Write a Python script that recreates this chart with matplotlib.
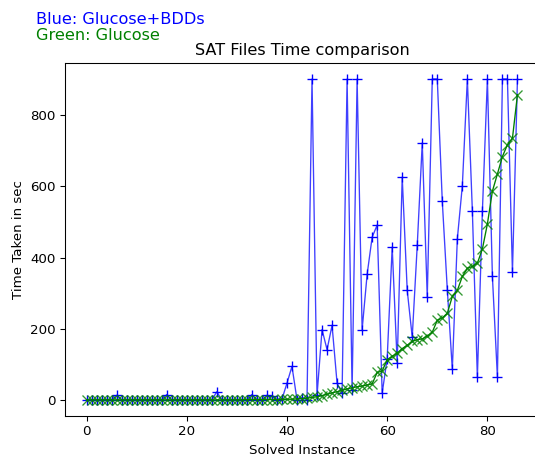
import matplotlib
matplotlib.use("Agg")
import matplotlib.pyplot as plt

# Solve times per instance (seconds)
bdd_times = [
    2, 1, 2, 1, 2, 1, 14, 1, 2, 1,
    2, 1, 2, 1, 2, 1, 16, 1, 2, 1,
    2, 1, 2, 1, 2, 1, 24, 1, 2, 1,
    2, 1, 2, 16, 2, 1, 14, 11, 2, 3,
    48, 95, 2, 7, 2, 900, 14, 198, 142, 210,
    48, 20, 900, 28, 900, 198, 353, 457, 491, 20,
    117, 429, 104, 625, 308, 177, 434, 721, 289, 900,
    900, 557, 310, 87, 452, 601, 900, 531, 64, 529,
    900, 347, 65, 900, 900, 359, 900,
]
glucose_times = [
    1, 1, 1, 1, 1, 1, 1, 1, 1, 1,
    1, 1, 1, 1, 1, 1, 1, 1, 1, 1,
    1, 1, 1, 1, 1, 1, 1, 1, 1, 1,
    1, 1, 2, 2, 2, 2, 2, 2, 2, 3,
    3, 3, 4, 5, 6, 8, 10, 13, 17, 21,
    24, 28, 32, 35, 38, 40, 43, 46, 78, 82,
    114, 123, 132, 145, 154, 165, 170, 172, 180, 191,
    224, 231, 244, 291, 308, 347, 370, 375, 384, 424,
    494, 586, 634, 683, 716, 734, 856,
]
instances = list(range(len(bdd_times)))

# reference looks like a slightly downscaled render, so use a lower dpi
DPI = 96.5
W, H = 535, 456
fig = plt.figure(figsize=(W / DPI, H / DPI), dpi=DPI)
ax = fig.add_axes([65 / W, 40 / H, 474 / W, 353 / H])

ax.plot(instances, bdd_times, color="blue", linewidth=1, alpha=0.75)
ax.plot(instances, bdd_times, "b+", markersize=7)
ax.plot(instances, glucose_times, color="green", linewidth=1)
ax.plot(instances, glucose_times, "x", color="green", markersize=7, alpha=0.8)

ax.set_title("SAT Files Time comparison")
ax.set_xlabel("Solved Instance")
ax.set_ylabel("Time Taken in sec")

fig.text(36 / W, 1 - 20 / H, "Blue: Glucose+BDDs", color="blue", fontsize=12, va="center")
fig.text(36 / W, 1 - 35 / H, "Green: Glucose", color="green", fontsize=12, va="center")

fig.savefig("out.png", dpi=DPI)
